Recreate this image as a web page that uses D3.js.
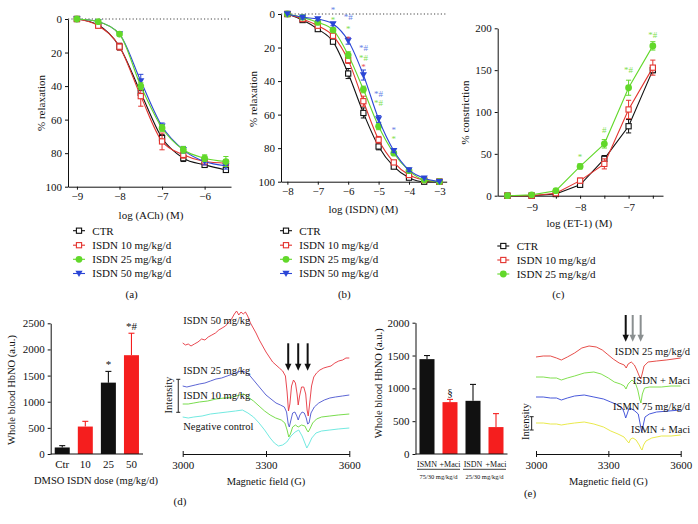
<!DOCTYPE html>
<html><head><meta charset="utf-8">
<script src="https://cdn.jsdelivr.net/npm/d3@7"></script>
<style>body{margin:0;background:#fff}svg{display:block;background:#fff}text{font-family:'Liberation Serif','Times New Roman',serif;fill:#111}</style>
</head><body><svg id="c" width="698" height="524"></svg>
<script>
// ---------- DATA ----------
const legendLabels = ["CTR","ISDN 10 mg/kg/d","ISDN 25 mg/kg/d","ISDN 50 mg/kg/d"];
// Panel (a) ACh
const aLogAch = [-9,-8.5,-8,-7.5,-7,-6.5,-6,-5.5];
const aCTR    = [0,3.6,16.5,44,71,83,87,90];
const aCTRerr = [0,1,2,2,2,2,1,1];
const aI10    = [0,4,16.5,46,73,81,85,86];
const aI10err = [0,1,2,6,5,2,2,2];
const aI25    = [0,1.6,9,40,65,78,83,85];
const aI25err = [0,1,1,2,2,2,2,3];
const aI50    = [0,1.6,9,37,64,78,85,87.5];
const aI50err = [0,1,1,4,2,2,2,2];
const aTicksY = [0,20,40,60,80,100];
const aTicksX = [-9,-8,-7,-6];
// Panel (b) ISDN
const bLogIsdn = [-8,-7.5,-7,-6.5,-6,-5.5,-5,-4.5,-4,-3.5,-3];
const bCTR    = [0,3.6,9,16.5,35.5,59,79,91,97.6,100,100];
const bCTRerr = [0,1,1,1,3,3,2,1,1,0,0];
const bI10    = [0,3,7,13,27.5,52,75,88.5,96,99,100];
const bI10err = [0,1,1,1,2,3,2,1,1,0,0];
const bI25    = [0,2,5,9.5,24.5,45,67,83,93.4,99,100];
const bI25err = [0,1,1,1,2,2,2,1,1,0,0];
const bI50    = [0,2,3,6,16,36.4,62.6,81.5,93,98,100];
const bI50err = [0,1,1,1,2,3,2,1,1,0,0];
const bTicksX = [-8,-7,-6,-5,-4,-3];
const bSigX   = [-6.5,-6,-5.5,-5,-4.5, -6.5,-6,-5.5,-5,-4.5, -6,-5.5];
const bSigY   = [-3.4,0.8,19.5,46.9,68.2, 2.6,8.0,25.5,52.3,73.5, 14.2,30.9];
const bSigTxt = ["*","*#","*#","*#","*", "*","*","*#","*#","*", "*","*"];
const bSigSer = [3,3,3,3,3, 2,2,2,2,2, 1,1];
// Panel (c) ET-1
const cLogEt1 = [-9.5,-9,-8.5,-8,-7.5,-7,-6.5];
const cCTR    = [0,0,2,13,44,83,150];
const cCTRerr = [0,0,1,2,4,8,3];
const cI10    = [0,0,3,18,38,103,153];
const cI10err = [0,0,1,3,6,11,9];
const cI25    = [0,1,6,35,62,129,179];
const cI25err = [0,0,1,3,5,9,5];
const cTicksY = [0,50,100,150,200];
const cTicksX = [-9.5,-9,-8.5,-8,-7.5,-7,-6.5];
const cSigX   = [-8,-7.5,-7,-6.5];
const cSigY   = [48.6,81,152,194];
const cSigTxt = ["*","#","*#","*#"];
// Panel (d) HbNO bars
const dDose    = ["Ctr","10","25","50"];
const dHbno    = [125,525,1365,1890];
const dHbnoErr = [35,100,215,420];
const dSig     = ["","","*","*#"];
const dTicksY  = [0,500,1000,1500,2000,2500];
// Panel (d) EPR spectra  [field (G), intensity (a.u.)]
const fieldTicks = [3000,3300,3600];
const dSpecLabels = ["ISDN 50 mg/kg","ISDN 25 mg/kg","ISDN 10 mg/kg","Negative control"];
const dSpec50 = [[3000,111],[3010,109],[3020,110],[3030,108],[3042,110],[3055,112],[3068,115],[3080,114],[3092,117],[3105,119],[3118,121],[3130,124],[3142,126],[3154,128],[3166,132],[3176,135],[3186,140],[3194,143],[3202,139],[3210,142],[3218,140],[3226,142],[3234,138],[3244,131],[3254,126],[3264,121],[3276,114],[3288,108],[3300,102],[3312,97],[3324,92],[3336,89],[3348,86],[3360,83],[3370,78],[3376,62],[3381,43],[3386,50],[3392,68],[3399,74],[3406,71],[3412,60],[3416,49],[3421,58],[3428,67],[3436,67],[3443,60],[3448,44],[3452,38],[3457,50],[3464,68],[3472,77],[3482,81],[3494,84],[3508,86],[3520,87],[3534,88],[3548,91],[3562,93],[3576,94],[3588,96],[3600,96]];
const dSpec25 = [[3000,68],[3015,67],[3030,68],[3045,69],[3060,70],[3080,71],[3100,73],[3120,75],[3140,76],[3160,78],[3180,80],[3198,82],[3212,83],[3226,82],[3240,79],[3255,74],[3270,69],[3285,64],[3300,59],[3318,55],[3336,51],[3352,49],[3366,47],[3374,42],[3380,30],[3384,27],[3389,33],[3396,41],[3404,42],[3411,38],[3416,34],[3422,39],[3430,42],[3438,41],[3445,36],[3450,30],[3455,31],[3462,41],[3474,47],[3490,51],[3510,54],[3530,56],[3550,57],[3575,58],[3600,59]];
const dSpec10 = [[3000,50],[3020,50],[3040,51],[3060,52],[3090,53],[3120,55],[3150,56],[3180,57],[3205,59],[3220,60],[3235,57],[3255,53],[3275,48],[3295,43],[3315,39],[3335,36],[3355,34],[3368,31],[3376,24],[3382,17],[3388,20],[3396,27],[3406,29],[3416,27],[3428,29],[3440,28],[3447,24],[3452,22],[3458,25],[3468,31],[3482,35],[3500,37],[3530,38],[3560,39],[3600,40]];
const dSpecNC = [[3000,37],[3020,36],[3040,37],[3070,38],[3100,40],[3130,41],[3160,42],[3190,43],[3215,44],[3235,41],[3255,37],[3275,31],[3295,24],[3315,16],[3330,11],[3345,8],[3360,9],[3375,12],[3390,18],[3405,22],[3418,24],[3430,18],[3440,11],[3447,6],[3455,10],[3465,16],[3480,21],[3500,23],[3530,24],[3560,25],[3600,26]];
const dArrowFields = [3380,3416,3450];
// Panel (e) HbNO bars
const eGroup    = ["ISMN","+Maci","ISDN","+Maci"];
const eHbno     = [1445,790,810,410];
const eHbnoErr  = [55,42,250,205];
const eSig      = ["","§","",""];
const eDoses    = ["75/30 mg/kg/d","25/30 mg/kg/d"];
const eTicksY   = [0,500,1000,1500,2000];
// Panel (e) EPR spectra
const eSpecLabels = ["ISDN 25 mg/kg/d","ISDN + Maci","ISMN 75 mg/kg/d","ISMN + Maci"];
const eSpecIsdn = [[3000,97],[3030,98],[3060,98],[3085,96],[3105,94],[3130,97],[3160,101],[3190,106],[3220,108],[3250,107],[3275,104],[3295,100],[3320,95],[3345,91],[3366,89],[3374,86],[3382,90],[3395,92],[3408,89],[3418,84],[3428,78],[3434,75],[3440,80],[3448,88],[3465,92],[3500,93],[3540,94],[3600,96]];
const eSpecIsdnMaci = [[3000,77],[3030,77],[3060,76],[3085,76],[3105,74],[3130,76],[3160,78],[3200,81],[3240,82],[3270,80],[3300,76],[3325,72],[3350,70],[3366,68],[3373,65],[3382,70],[3398,74],[3412,71],[3422,64],[3430,55],[3435,51],[3441,60],[3450,66],[3470,67],[3520,67],[3560,68],[3600,68]];
const eSpecIsmn = [[3000,57],[3030,57],[3060,56],[3085,56],[3105,54],[3130,56],[3160,58],[3200,59],[3240,57],[3280,55],[3310,52],[3340,49],[3358,46],[3366,41],[3372,36],[3378,40],[3386,46],[3398,45],[3410,43],[3424,40],[3432,30],[3438,22],[3444,28],[3452,37],[3470,40],[3500,42],[3550,43],[3600,44]];
const eSpecIsmnMaci = [[3000,31],[3030,31],[3060,30],[3085,30],[3105,29],[3130,30],[3160,31],[3200,32],[3240,30],[3280,27],[3310,23],[3340,20],[3365,17],[3378,13],[3385,11],[3392,15],[3402,16],[3415,14],[3428,9],[3436,5],[3440,4],[3446,9],[3456,13],[3480,16],[3520,18],[3560,18],[3600,19]];
const eArrowFields = [3372,3401,3434];

// ---------- DRAWING ----------
const svg = d3.select("#c");
const COL = ["#111111","#e3332e","#62d82a","#2b46d6"];
const SIGCOL = ["#111","#ea5656","#7fe050","#6781e6"];
const SYM = ["sq","sq","ci","tr"];
const fmt = d => d < 0 ? "\u2212" + Math.abs(d) : String(d);
const plain = d3.format("d");

function txt(g, x, y, s, size, anchor, color) {
  return g.append("text").attr("x", x).attr("y", y).attr("dy", "0.35em")
    .attr("font-size", size).attr("text-anchor", anchor || "middle")
    .style("fill", color || "#111").text(s);
}
function vtxt(g, x, y, s, size) {
  return g.append("text").attr("transform", `translate(${x},${y}) rotate(-90)`).attr("dy", "0.35em")
    .attr("font-size", size).attr("text-anchor", "middle").text(s);
}
function styleAxis(ax, size) {
  ax.attr("font-size", size || 11).attr("font-family", null);
  ax.selectAll("path.domain").attr("stroke", "#111").attr("stroke-width", 1);
  ax.selectAll(".tick line").attr("stroke", "#111").attr("stroke-width", 1);
  ax.selectAll("text").attr("font-size", size || 11).style("fill", "#111");
}
function sym(g, kind, cx, cy, col) {
  if (kind === "sq") g.append("rect").attr("x", cx - 2.6).attr("y", cy - 2.6).attr("width", 5.2).attr("height", 5.2).attr("fill", "#fff").attr("stroke", col).attr("stroke-width", 1.1);
  else if (kind === "ci") g.append("circle").attr("cx", cx).attr("cy", cy).attr("r", 3.4).attr("fill", col);
  else g.append("path").attr("d", `M${cx - 3.6},${cy - 2.8}L${cx + 3.6},${cy - 2.8}L${cx},${cy + 3.4}Z`).attr("fill", col);
}

function linePanel(o) {
  const g = svg.append("g");
  const x = d3.scaleLinear().domain(o.xDom).range(o.xRange);
  const y = d3.scaleLinear().domain(o.yDom).range(o.yRange);
  const yBottom = Math.max(...o.yRange);
  if (o.dotted) g.append("line").attr("x1", o.xRange[0]).attr("x2", o.xRange[1]).attr("y1", y(0)).attr("y2", y(0))
    .attr("stroke", "#444").attr("stroke-width", 1).attr("stroke-dasharray", "1.2,2.2");
  const ay = g.append("g").attr("transform", `translate(${o.xRange[0]},0)`)
    .call(d3.axisLeft(y).tickValues(o.yTicks).tickSize(3).tickSizeOuter(0).tickPadding(3).tickFormat(plain));
  styleAxis(ay);
  const ax = g.append("g").attr("transform", `translate(0,${yBottom})`)
    .call(d3.axisBottom(x).tickValues(o.xTicks).tickSize(3).tickSizeOuter(0).tickPadding(o.xPad)
      .tickFormat(d => Number.isInteger(d) ? fmt(d) : ""));
  styleAxis(ax);
  const line = d3.line().x(d => x(d[0])).y(d => y(d[1])).curve(o.curve);
  o.order.forEach(si => {
    const vals = o.series[si], errs = o.errs[si], col = COL[si];
    const pts = o.xs.map((xv, i) => [xv, vals[i], errs[i]]);
    g.append("path").attr("d", line(pts)).attr("fill", "none").attr("stroke", col).attr("stroke-width", 1.1);
    pts.forEach(p => {
      if (p[2] > 0) {
        const y1 = y(p[1] - p[2]), y2 = y(p[1] + p[2]), cx = x(p[0]);
        g.append("line").attr("x1", cx).attr("x2", cx).attr("y1", y1).attr("y2", y2).attr("stroke", col).attr("stroke-width", 1);
        [y1, y2].forEach(yy => g.append("line").attr("x1", cx - 2.6).attr("x2", cx + 2.6).attr("y1", yy).attr("y2", yy).attr("stroke", col).attr("stroke-width", 1));
      }
    });
    pts.forEach(p => sym(g, SYM[si], x(p[0]), y(p[1]), col));
  });
  if (o.sig) o.sig.x.forEach((sx, i) => txt(g, x(sx), y(o.sig.y[i]) + 1.5, o.sig.t[i], 9, "middle", SIGCOL[o.sig.s[i]]));
  txt(g, o.xTitle[0], o.xTitle[1], o.xTitleText, 11);
  vtxt(g, o.yTitle[0], o.yTitle[1], o.yTitleText, 11);
  o.legendRows.forEach((ry, i) => {
    g.append("line").attr("x1", o.legX - 6).attr("x2", o.legX + 6).attr("y1", ry).attr("y2", ry).attr("stroke", COL[i]).attr("stroke-width", 1.1);
    sym(g, SYM[i], o.legX, ry, COL[i]);
    txt(g, o.legTx, ry, legendLabels[i], 11, "start");
  });
  txt(g, o.letter[0], o.letter[1], o.letterText, 11);
}

linePanel({
  xDom: [-9.21, -5.38], xRange: [68, 231], yDom: [0, 100], yRange: [19, 186.7], yTicks: aTicksY, xTicks: aTicksX, xPad: 3,
  dotted: true, curve: d3.curveMonotoneX, xs: aLogAch,
  series: [aCTR, aI10, aI25, aI50], errs: [aCTRerr, aI10err, aI25err, aI50err], order: [0, 1, 3, 2],
  xTitle: [151, 215], xTitleText: "log (ACh) (M)", yTitle: [41, 103], yTitleText: "% relaxation",
  legX: 79, legTx: 92.3, legendRows: [230.7, 245.2, 259.3, 273.5], letter: [131.7, 294.3], letterText: "(a)"
});
linePanel({
  xDom: [-8.21, -2.76], xRange: [281, 446.7], yDom: [0, 100], yRange: [14, 181.7], yTicks: aTicksY, xTicks: bTicksX, xPad: 3,
  dotted: true, curve: d3.curveMonotoneX, xs: bLogIsdn,
  series: [bCTR, bI10, bI25, bI50], errs: [bCTRerr, bI10err, bI25err, bI50err], order: [0, 1, 2, 3],
  sig: {x: bSigX, y: bSigY, t: bSigTxt, s: bSigSer},
  xTitle: [363.3, 209], xTitleText: "log (ISDN) (M)", yTitle: [252.7, 99], yTitleText: "% relaxation",
  legX: 286, legTx: 299.3, legendRows: [230.7, 245.2, 259.3, 273.5], letter: [344.3, 294.3], letterText: "(b)"
});
linePanel({
  xDom: [-9.70, -6.29], xRange: [497.7, 663], yDom: [0, 200], yRange: [195.7, 28.3], yTicks: cTicksY, xTicks: cTicksX, xPad: 5,
  dotted: false, curve: d3.curveLinear, xs: cLogEt1,
  series: [cCTR, cI10, cI25], errs: [cCTRerr, cI10err, cI25err], order: [0, 1, 2],
  sig: {x: cSigX, y: cSigY, t: cSigTxt, s: [2, 2, 2, 2]},
  xTitle: [579.3, 223.3], xTitleText: "log (ET-1) (M)", yTitle: [465, 112.5], yTitleText: "% constriction",
  legX: 503.3, legTx: 516.7, legendRows: [246, 260, 274], letter: [558.3, 294.3], letterText: "(c)"
});

function barPanel(o) {
  const g = svg.append("g");
  const x = d3.scaleBand().domain(d3.range(o.vals.length)).range(o.xRange);
  const y = d3.scaleLinear().domain([0, o.yMax]).range([454, o.yTop]);
  const bw = 15;
  o.vals.forEach((v, i) => {
    const cx = x(i) + x.bandwidth() / 2;
    const col = i % 2 === 0 ? "#111111" : "#f51e1e";
    const top = y(v + o.errs[i]);
    g.append("line").attr("x1", cx).attr("x2", cx).attr("y1", y(v)).attr("y2", top).attr("stroke", col).attr("stroke-width", 1.1);
    g.append("line").attr("x1", cx - 3).attr("x2", cx + 3).attr("y1", top).attr("y2", top).attr("stroke", col).attr("stroke-width", 1.1);
    g.append("rect").attr("x", cx - bw / 2).attr("y", y(v)).attr("width", bw).attr("height", y(0) - y(v)).attr("fill", col);
    if (o.sig[i]) g.append("text").attr("x", cx).attr("y", top - 3).attr("font-size", 11).attr("text-anchor", "middle").text(o.sig[i]);
    txt(g, cx, 464, o.cats[i], o.catSize);
  });
  const ay = g.append("g").attr("transform", `translate(${o.xRange[0]},0)`)
    .call(d3.axisLeft(y).tickValues(o.ticks).tickSize(3).tickSizeOuter(0).tickPadding(3).tickFormat(plain));
  styleAxis(ay);
  g.append("line").attr("x1", o.xRange[0]).attr("x2", o.xRange[1]).attr("y1", 454).attr("y2", 454).attr("stroke", "#111").attr("stroke-width", 1);
  vtxt(g, o.yTitle[0], o.yTitle[1], "Whole blood HbNO (a.u.)", 10.5);
  return {g, x};
}

const dB = barPanel({vals: dHbno, errs: dHbnoErr, sig: dSig, cats: dDose, catSize: 11, xRange: [50.7, 143], yMax: 2500, yTop: 323.3, ticks: dTicksY, yTitle: [11.7, 390]});
txt(dB.g, 96, 480.7, "DMSO ISDN dose (mg/kg/d)", 10.5);

const eB = barPanel({vals: eHbno, errs: eHbnoErr, sig: eSig, cats: eGroup, catSize: 8, xRange: [415.5, 507.5], yMax: 2000, yTop: 322.7, ticks: eTicksY, yTitle: [378.3, 383.3]});
eDoses.forEach((s, k) => {
  const x0 = eB.x(2 * k), x1 = eB.x(2 * k + 1) + eB.x.bandwidth();
  eB.g.append("line").attr("x1", x0 + 1.5).attr("x2", x1 - 1.5).attr("y1", 469.3).attr("y2", 469.3).attr("stroke", "#111").attr("stroke-width", 0.8);
  txt(eB.g, (x0 + x1) / 2, 476.5, s, 6.5);
});

function eprPanel(o) {
  const g = svg.append("g");
  const x = d3.scaleLinear().domain([3000, 3600]).range(o.xRange);
  const y = d3.scaleLinear().domain([0, 150]).range([454, 304]);
  const ax = g.append("g").attr("transform", "translate(0,454)")
    .call(d3.axisBottom(x).tickValues(fieldTicks).tickSize(3).tickSizeOuter(0).tickPadding(4).tickFormat(plain));
  ax.selectAll(".tick line").attr("y1", -3).attr("y2", 3);
  styleAxis(ax);
  const line = d3.line().x(d => x(d[0])).y(d => y(d[1]));
  o.traces.forEach((t, i) => g.append("path").attr("d", line(t)).attr("fill", "none").attr("stroke", o.colors[i]).attr("stroke-width", 0.9));
  o.labels.forEach((s, i) => txt(g, x(o.labF), y(o.labY[i]), s, 10.5, o.labAnchor));
  o.arrows.forEach((f, i) => {
    const ax0 = x(f), yt = y(o.arrowTop), yb = y(o.arrowTip), c = o.arrowCols[i];
    g.append("line").attr("x1", ax0).attr("x2", ax0).attr("y1", yt).attr("y2", yb - 6).attr("stroke", c).attr("stroke-width", 2);
    g.append("path").attr("d", `M${ax0 - 3.2},${yb - 7}L${ax0 + 3.2},${yb - 7}L${ax0},${yb}Z`).attr("fill", c);
  });
  const bx = x(o.barF), b1 = y(o.barY[0]), b2 = y(o.barY[1]);
  g.append("line").attr("x1", bx).attr("x2", bx).attr("y1", b1).attr("y2", b2).attr("stroke", "#222").attr("stroke-width", 1);
  [b1, b2].forEach(yy => g.append("line").attr("x1", bx - 2).attr("x2", bx + 2).attr("y1", yy).attr("y2", yy).attr("stroke", "#222").attr("stroke-width", 1));
  vtxt(g, o.intens[0], o.intens[1], "Intensity", 10.5);
  txt(g, (o.xRange[0] + o.xRange[1]) / 2, 481, "Magnetic field (G)", 10.5);
  txt(g, o.letter[0], o.letter[1], o.letterText, 11);
}

eprPanel({
  xRange: [182.7, 349.3], traces: [dSpecNC, dSpec10, dSpec25, dSpec50], colors: ["#62e6dc", "#6ad83a", "#4b55cf", "#e6343e"],
  labels: dSpecLabels, labF: 3002, labY: [133.3, 83.3, 58.3, 27.3], labAnchor: "start",
  arrows: dArrowFields, arrowTop: 110.7, arrowTip: 83.3, arrowCols: ["#111", "#111", "#111"],
  barF: 2984, barY: [74.7, 41.7], intens: [168.3, 395], letter: [180, 501], letterText: "(d)"
});
eprPanel({
  xRange: [536, 680.7], traces: [eSpecIsmnMaci, eSpecIsmn, eSpecIsdnMaci, eSpecIsdn], colors: ["#e6e638", "#3446d6", "#74dc3c", "#e33a36"],
  labels: eSpecLabels, labF: 3639, labY: [102.3, 73.3, 47.3, 25], labAnchor: "end",
  arrows: eArrowFields, arrowTop: 139, arrowTip: 112.3, arrowCols: ["#111", "#8a8f90", "#8a8f90"],
  barF: 2982, barY: [37.3, 24], intens: [525, 421.7], letter: [530, 493], letterText: "(e)"
});
</script></body></html>
